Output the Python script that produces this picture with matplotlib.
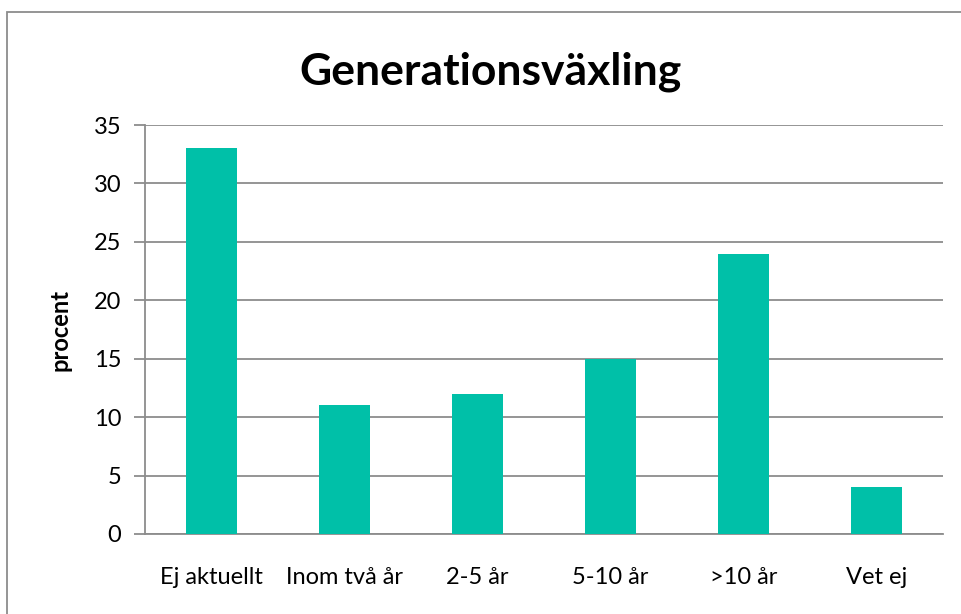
import matplotlib
matplotlib.use("Agg")
import matplotlib.pyplot as plt
from matplotlib.patches import Rectangle

categories = ["Ej aktuellt", "Inom två år", "2-5 år", "5-10 år", ">10 år", "Vet ej"]
values = [33, 11, 12, 15, 24, 4]
yticks = [0, 5, 10, 15, 20, 25, 30, 35]

plt.rcParams["font.family"] = ["Lato", "DejaVu Sans"]

fig = plt.figure(figsize=(9.61, 6.14), dpi=100)
ax = fig.add_axes([0.1509, 0.1303, 0.9813 - 0.1509, 0.7964 - 0.1303])

grid_c = "#8c8c8c"
x = range(len(categories))
ax.bar(x, values, width=0.39, color="#00c0a8", zorder=3)

ax.set_xlim(-0.5, len(categories) - 0.5)
ax.set_ylim(0, 35)
ax.set_yticks(yticks)
ax.set_xticks(list(x))
ax.set_xticklabels(categories)
ax.yaxis.grid(True, color=grid_c, lw=1.3, zorder=0)
for s in ("top", "right"):
    ax.spines[s].set_visible(False)
ax.spines["left"].set_color(grid_c)
ax.spines["bottom"].set_color(grid_c)
ax.spines["left"].set_linewidth(1.3)
ax.spines["bottom"].set_linewidth(1.3)
ax.tick_params(axis="y", length=8, width=1.3, color=grid_c, pad=9, labelsize=17)
ax.tick_params(axis="x", length=0, pad=24, labelsize=17)

ax.set_ylabel("procent", fontsize=17, fontweight="bold", labelpad=16)
fig.text(0.51, 0.883, "Generationsväxling", ha="center", va="center",
         fontsize=32, fontweight="bold")

# outer chart frame
fig.patches.append(Rectangle((7 / 961, -0.1), 1.1, 1 - 12 / 614 + 0.1,
                             transform=fig.transFigure, fill=False,
                             edgecolor="#8c8c8c", lw=1.3))

fig.savefig("out.png", dpi=100)
